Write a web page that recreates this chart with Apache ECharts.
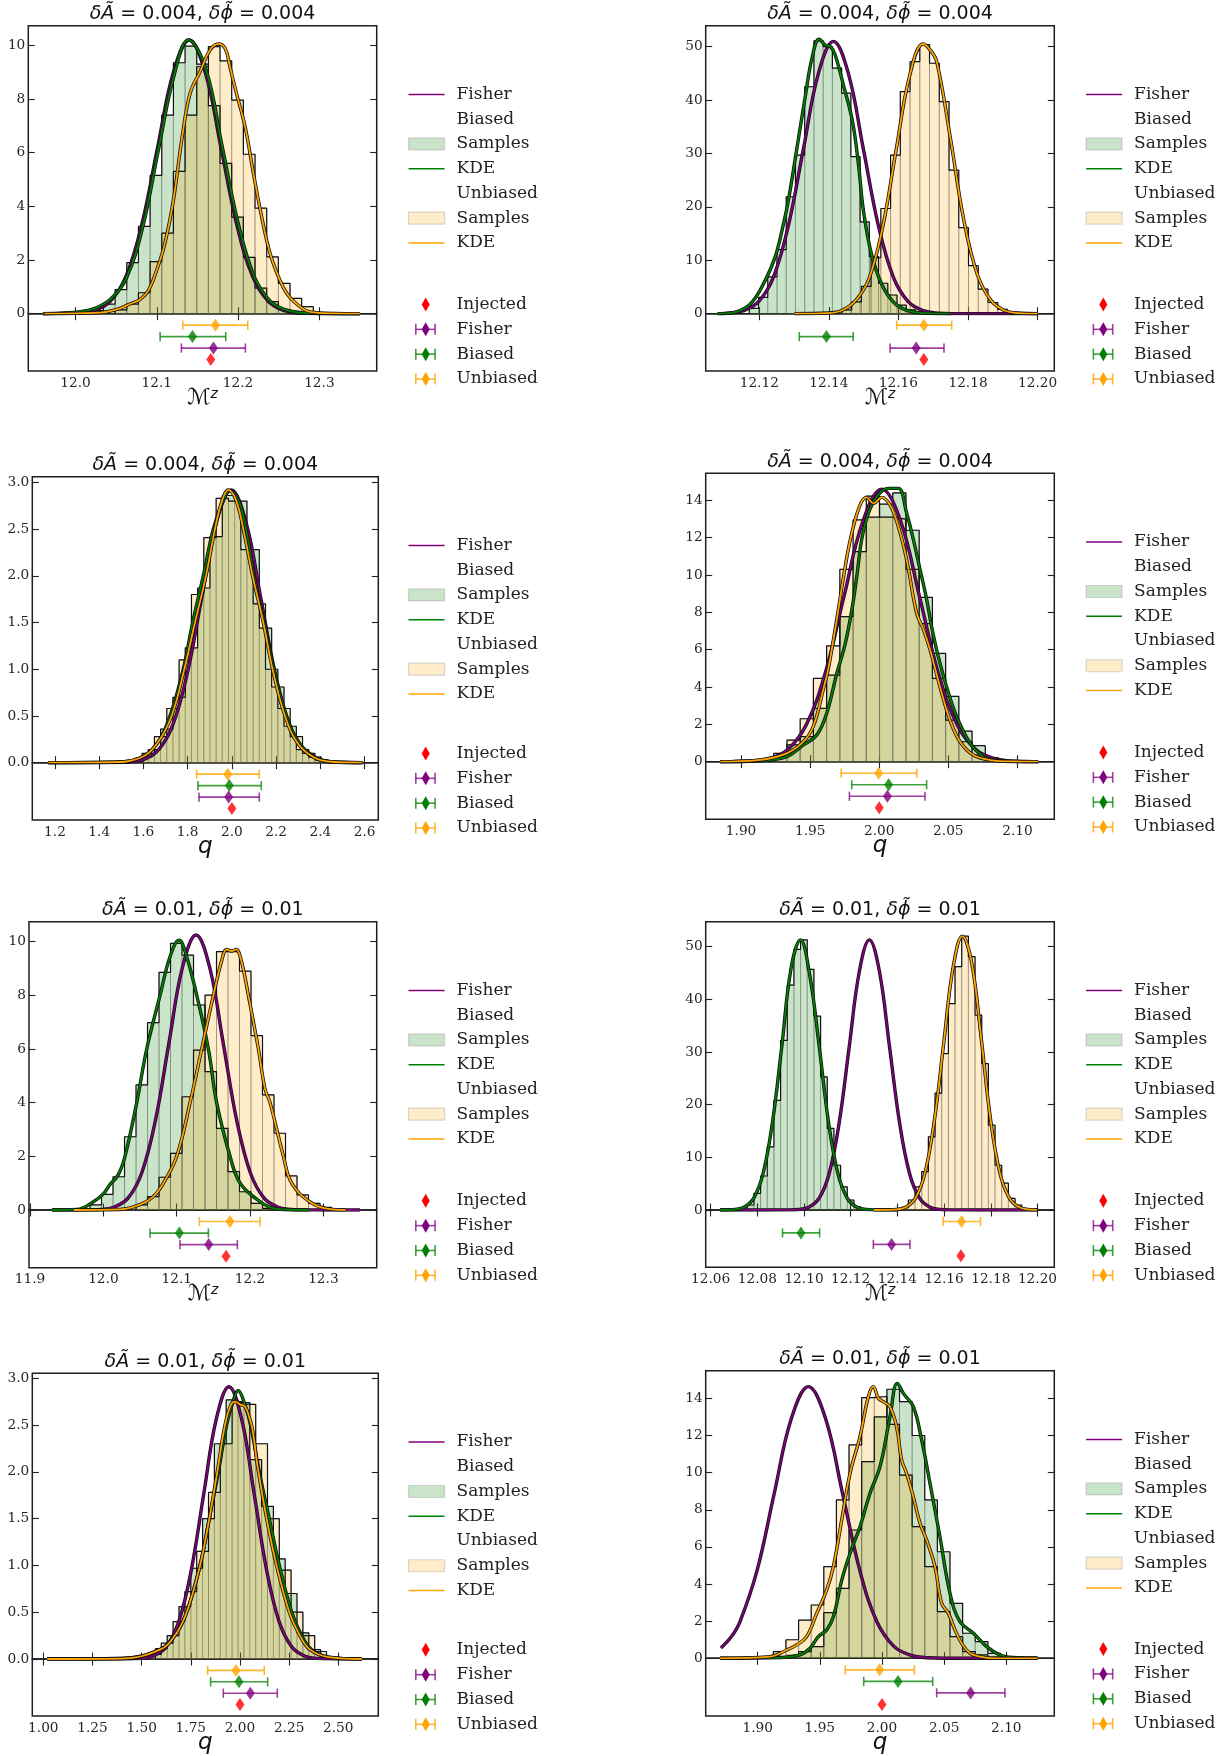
<!DOCTYPE html>
<html>
<head>
<meta charset="utf-8">
<script src="https://cdn.jsdelivr.net/npm/echarts@6/dist/echarts.min.js"></script>
<style>
html,body{margin:0;padding:0;background:#fff;}
#chart{width:1231px;height:1756px;}
</style>
</head>
<body>
<div id="chart"></div>
<script>
// ===================== Row 1, left: chirp mass, dA = dphi = 0.004 =====================
const r1L_xRange = [11.942, 12.3705];
const r1L_xTicks = [12.0, 12.1, 12.2, 12.3];
const r1L_yMax = 10.73;
const r1L_yTicks = [0, 2, 4, 6, 8, 10];
const r1L_biasedBins = [12.0201, 0.01434];        // first edge, bin width
const r1L_biasedHist = [0.12, 0.36, 0.9, 1.9, 3.25, 5.15, 7.4, 9.35, 9.97, 9.3, 7.75, 5.6, 3.6, 2.1, 0.95, 0.45, 0.15];
const r1L_unbiasedBins = [12.04878, 0.01434];
const r1L_unbiasedHist = [0.14, 0.36, 0.78, 1.94, 3.0, 5.3, 7.4, 9.2, 9.95, 9.42, 7.96, 5.94, 3.93, 2.12, 1.13, 0.57, 0.26];
const r1L_biasedKde = [[11.96,0],[11.985,0.03],[12.0045,0.07],[12.024,0.2],[12.0435,0.55],[12.063,1.35],[12.0825,3.2],[12.102,6.1],[12.1215,8.9],[12.139,10.2],[12.1605,9.1],[12.18,6.3],[12.1995,3.45],[12.219,1.45],[12.2385,0.5],[12.258,0.15],[12.2775,0.04],[12.30,0.01],[12.35,0]];
const r1L_unbiasedKde = [[11.962,0],[12.03,0.04],[12.051,0.16],[12.069,0.39],[12.0795,0.53],[12.09,0.88],[12.1,1.63],[12.11,2.62],[12.1205,4.24],[12.1307,6.47],[12.141,8.21],[12.1533,9.02],[12.1656,9.83],[12.1758,10.05],[12.184,9.89],[12.19,9.2],[12.198,8.21],[12.2086,6.97],[12.2189,5.23],[12.229,3.61],[12.2393,2.25],[12.2496,1.38],[12.2598,0.76],[12.2721,0.36],[12.2885,0.07],[12.317,0.01],[12.35,0]];
const r1L_fisherCurve = [[11.96,0],[11.984,0.003],[12.0035,0.022],[12.023,0.113],[12.0425,0.448],[12.062,1.38],[12.0815,3.31],[12.101,6.19],[12.1205,9.0],[12.14,10.2],[12.1595,9.0],[12.179,6.19],[12.1985,3.31],[12.218,1.38],[12.2375,0.448],[12.257,0.113],[12.2765,0.022],[12.296,0.003],[12.35,0]];
const r1L_injected = 12.1664;
const r1L_fisherEst = [12.1697, 12.1303, 12.209];     // centre, low, high
const r1L_biasedEst = [12.1439, 12.1041, 12.1848];
const r1L_unbiasedEst = [12.1721, 12.132, 12.2119];

// ===================== Row 1, right: chirp mass, dA = dphi = 0.004 =====================
const r1R_xRange = [12.1046, 12.2048];
const r1R_xTicks = [12.12, 12.14, 12.16, 12.18, 12.20];
const r1R_yMax = 53.93;
const r1R_yTicks = [0, 10, 20, 30, 40, 50];
const r1R_biasedBins = [12.11713, 0.002654];
const r1R_biasedHist = [1.0, 3.06, 6.9, 12.0, 21.9, 29.7, 42.5, 51.1, 50.0, 46.0, 41.3, 29.4, 17.2, 10.7, 5.7, 3.5, 1.6, 0.7, 0.25];
const r1R_unbiasedBins = [12.14374, 0.0028];
const r1R_unbiasedHist = [0.7, 2.2, 5.1, 10.5, 19.7, 29.7, 41.6, 47.2, 50.4, 46.9, 39.7, 26.9, 16.1, 9.0, 4.6, 2.1, 0.8, 0.3];
const r1R_biasedKde = [[12.108,0],[12.1141,0.5],[12.118,2.2],[12.1219,6.5],[12.1245,10.5],[12.1265,15.5],[12.1283,21],[12.1307,30.5],[12.1333,41],[12.1352,48],[12.1372,51.4],[12.139,50.3],[12.1405,50.0],[12.1418,48.5],[12.1445,42],[12.1468,36],[12.1485,28],[12.15,19],[12.1523,11],[12.1552,5.5],[12.1585,2.2],[12.162,0.7],[12.167,0.1],[12.175,0]];
const r1R_unbiasedKde = [[12.13,0],[12.1398,0.12],[12.1437,0.6],[12.1476,2.4],[12.1515,6.5],[12.1554,16.0],[12.1593,30.5],[12.1632,44.5],[12.1671,50.5],[12.169,49.5],[12.171,47.2],[12.1749,33.0],[12.1788,17.5],[12.1827,7.3],[12.1866,2.5],[12.1905,0.6],[12.1944,0.12],[12.2,0]];
const r1R_fisherCurve = [[12.109,0],[12.1112,0.11],[12.1155,0.57],[12.1198,2.24],[12.1241,6.9],[12.1284,16.6],[12.1327,30.9],[12.137,45.0],[12.1413,51.0],[12.1456,45.0],[12.1499,30.9],[12.1542,16.6],[12.1585,6.9],[12.1628,2.24],[12.1671,0.57],[12.1714,0.11],[12.1757,0.02],[12.2,0]];
const r1R_injected = 12.1673;
const r1R_fisherEst = [12.1651, 12.1576, 12.1731];
const r1R_biasedEst = [12.1393, 12.1315, 12.147];
const r1R_unbiasedEst = [12.1673, 12.1595, 12.1753];

// ===================== Row 2, left: mass ratio, dA = dphi = 0.004 =====================
const r2L_xRange = [1.0975, 2.662];
const r2L_xTicks = [1.2, 1.4, 1.6, 1.8, 2.0, 2.2, 2.4, 2.6];
const r2L_yMax = 3.061;
const r2L_yTicks = [0, 0.5, 1.0, 1.5, 2.0, 2.5, 3.0];
const r2L_biasedBins = [1.566, 0.0558];
const r2L_biasedHist = [0.05, 0.14, 0.36, 0.70, 1.23, 1.87, 2.42, 2.86, 2.80, 2.28, 1.44, 0.81, 0.39, 0.14, 0.06, 0.02];
const r2L_unbiasedBins = [1.594, 0.0558];
const r2L_unbiasedHist = [0.1, 0.28, 0.58, 1.1, 1.8, 2.41, 2.83, 2.8, 2.28, 1.7, 1.0, 0.58, 0.28, 0.1, 0.03];
const r2L_biasedKde = [[1.17,0],[1.45,0.005],[1.584,0.05],[1.66,0.2],[1.72,0.5],[1.78,1.0],[1.8225,1.5],[1.8707,2.0],[1.916,2.5],[1.96,2.8],[1.991,2.91],[2.03,2.8],[2.0636,2.5],[2.0998,2.0],[2.1465,1.5],[2.19,1.0],[2.247,0.5],[2.308,0.2],[2.383,0.05],[2.45,0.01],[2.59,0]];
const r2L_unbiasedKde = [[1.17,0],[1.45,0.005],[1.584,0.05],[1.66,0.2],[1.7275,0.5],[1.7848,1.0],[1.833,1.5],[1.8828,2.0],[1.9234,2.5],[1.955,2.8],[1.984,2.92],[2.02,2.8],[2.0515,2.5],[2.0937,2.0],[2.142,1.5],[2.184,1.0],[2.24,0.5],[2.30,0.2],[2.376,0.05],[2.45,0.01],[2.59,0]];
const r2L_fisherCurve = [[1.17,0],[1.465,0.001],[1.5315,0.0064],[1.598,0.032],[1.6645,0.128],[1.731,0.395],[1.7975,0.948],[1.864,1.771],[1.9305,2.577],[1.997,2.92],[2.0635,2.577],[2.13,1.771],[2.1965,0.948],[2.263,0.395],[2.3295,0.128],[2.396,0.032],[2.4625,0.0064],[2.529,0.001],[2.59,0]];
const r2L_injected = 2.0;
const r2L_fisherEst = [1.9852, 1.8511, 2.1239];
const r2L_biasedEst = [1.9883, 1.8466, 2.1329];
const r2L_unbiasedEst = [1.9807, 1.8405, 2.1239];

// ===================== Row 2, right: mass ratio, dA = dphi = 0.004 =====================
const r2R_xRange = [1.8744, 2.1267];
const r2R_xTicks = [1.90, 1.95, 2.00, 2.05, 2.10];
const r2R_yMax = 15.45;
const r2R_yTicks = [0, 2, 4, 6, 8, 10, 12, 14];
const r2R_biasedBins = [1.92364, 0.00957];
const r2R_biasedHist = [0.25, 0.9, 1.34, 2.86, 4.64, 7.77, 11.25, 13.1, 13.8, 14.4, 12.4, 8.8, 5.8, 3.5, 1.64, 0.86, 0.2];
const r2R_unbiasedBins = [1.92364, 0.00957];
const r2R_unbiasedHist = [0.45, 1.16, 2.3, 4.46, 6.2, 10.3, 12.95, 14.23, 13.1, 13.0, 10.3, 7.4, 4.46, 2.23, 1.07, 0.36, 0.1];
const r2R_biasedKde = [[1.885,0],[1.9137,0.05],[1.933,0.27],[1.9451,0.9],[1.9548,1.43],[1.962,2.6],[1.9692,4.7],[1.9753,6.3],[1.9801,8.1],[1.9837,9.9],[1.9873,11.9],[1.9921,13.3],[1.9982,14.2],[2.0066,14.64],[2.0138,14.64],[2.0199,13.3],[2.0247,11.9],[2.0295,10.3],[2.0343,8.7],[2.038,7.2],[2.0428,5.6],[2.0488,4.0],[2.0561,2.4],[2.0657,1.0],[2.0753,0.27],[2.0826,0.09],[2.0971,0.01],[2.115,0]];
const r2R_unbiasedKde = [[1.885,0],[1.912,0.08],[1.933,0.45],[1.9451,1.07],[1.9523,1.9],[1.9596,3.9],[1.9632,5.0],[1.9692,7.6],[1.9755,10.5],[1.98,12.2],[1.9861,13.75],[1.9909,14.16],[1.9958,13.84],[2.0018,14.16],[2.0078,13.75],[2.0138,12.6],[2.0199,10.8],[2.0271,7.95],[2.0319,7.1],[2.0368,6.0],[2.044,4.0],[2.0512,2.23],[2.0585,1.07],[2.0681,0.36],[2.0802,0.09],[2.097,0.01],[2.115,0]];
const r2R_fisherCurve = [[1.885,0],[1.8926,0.005],[1.9063,0.032],[1.9199,0.162],[1.9336,0.64],[1.9472,1.98],[1.9609,4.74],[1.9745,8.86],[1.9882,12.88],[2.0018,14.6],[2.0155,12.88],[2.0291,8.86],[2.0428,4.74],[2.0564,1.98],[2.0701,0.64],[2.0837,0.162],[2.0974,0.032],[2.111,0.005],[2.115,0]];
const r2R_injected = 2.0;
const r2R_fisherEst = [2.0059, 1.9784, 2.0331];
const r2R_biasedEst = [2.0068, 1.9801, 2.0343];
const r2R_unbiasedEst = [1.9996, 1.9724, 2.0271];

// ===================== Row 3, left: chirp mass, dA = dphi = 0.01 =====================
const r3L_xRange = [11.8986, 12.3727];
const r3L_xTicks = [11.9, 12.0, 12.1, 12.2, 12.3];
const r3L_yMax = 10.745;
const r3L_yTicks = [0, 2, 4, 6, 8, 10];
const r3L_biasedBins = [11.9818, 0.01568];
const r3L_biasedHist = [0.19, 0.58, 1.24, 2.73, 4.66, 6.98, 8.86, 9.94, 9.5, 7.64, 5.16, 3.04, 1.43, 0.68, 0.25, 0.06];
const r3L_unbiasedBins = [12.04452, 0.01568];
const r3L_unbiasedHist = [0.19, 0.5, 1.22, 2.11, 4.22, 5.96, 8.01, 9.63, 9.63, 8.9, 6.5, 4.29, 2.86, 1.27, 0.56, 0.25, 0.1];
const r3L_biasedKde = [[11.93,0],[11.964,0.02],[11.986,0.3],[12.0,0.6],[12.009,0.95],[12.02,1.3],[12.0295,2.0],[12.0455,4.0],[12.0591,6.0],[12.0773,8.0],[12.0909,9.44],[12.1032,10.06],[12.1136,9.44],[12.1273,8.0],[12.1432,6.0],[12.1545,4.0],[12.1727,2.0],[12.1864,1.0],[12.2091,0.4],[12.2273,0.1],[12.245,0.02],[12.28,0]];
const r3L_unbiasedKde = [[11.96,0],[12.0227,0.02],[12.05,0.2],[12.0682,0.5],[12.0818,1.0],[12.1,2.0],[12.1182,4.0],[12.1341,6.0],[12.15,8.0],[12.1614,9.3],[12.1682,9.71],[12.175,9.65],[12.1809,9.71],[12.188,9.3],[12.1977,8.0],[12.2114,6.0],[12.2205,4.5],[12.2273,4.0],[12.2455,2.0],[12.2568,1.0],[12.2818,0.3],[12.3045,0.05],[12.33,0]];
const r3L_fisherCurve = [[11.93,0],[11.9784,0.003],[11.9969,0.023],[12.0154,0.114],[12.0339,0.45],[12.0524,1.39],[12.0709,3.33],[12.0894,6.22],[12.1079,9.05],[12.1264,10.25],[12.1449,9.05],[12.1634,6.22],[12.1819,3.33],[12.2004,1.39],[12.2189,0.45],[12.2374,0.114],[12.2559,0.023],[12.2744,0.003],[12.35,0]];
const r3L_injected = 12.1673;
const r3L_fisherEst = [12.1436, 12.1045, 12.1827];
const r3L_biasedEst = [12.1036, 12.0636, 12.1432];
const r3L_unbiasedEst = [12.1727, 12.1309, 12.2136];

// ===================== Row 3, right: chirp mass, dA = dphi = 0.01 =====================
const r3R_xRange = [12.0579, 12.2072];
const r3R_xTicks = [12.06, 12.08, 12.10, 12.12, 12.14, 12.16, 12.18, 12.20];
const r3R_yMax = 54.75;
const r3R_yTicks = [0, 10, 20, 30, 40, 50];
const r3R_biasedBins = [12.0757, 0.002855];
const r3R_biasedHist = [0.95, 3.16, 6.46, 12.0, 20.8, 32.2, 42.7, 49.5, 51.3, 45.7, 36.8, 25.3, 15.5, 8.5, 4.4, 1.9, 0.6];
const r3R_unbiasedBins = [12.14185, 0.002855];
const r3R_unbiasedHist = [0.5, 1.9, 4.4, 7.3, 13.9, 22.2, 29.7, 39.2, 46.2, 52.0, 48.1, 37.0, 27.8, 16.1, 8.5, 5.1, 2.2, 0.95];
const r3R_biasedKde = [[12.064,0],[12.0665,0.017],[12.0705,0.11],[12.0745,0.57],[12.0785,2.25],[12.0825,6.94],[12.0865,16.66],[12.0905,31.1],[12.0945,46.0],[12.0985,51.3],[12.1025,44.5],[12.1065,31.1],[12.1105,16.66],[12.1145,6.94],[12.1185,2.25],[12.1225,0.57],[12.1265,0.11],[12.1305,0.017],[12.14,0]];
const r3R_unbiasedKde = [[12.13,0],[12.1358,0.02],[12.1398,0.11],[12.1438,0.58],[12.1478,2.3],[12.1518,7.0],[12.1558,16.9],[12.1598,31.5],[12.1638,45.9],[12.1678,52.0],[12.1718,47.0],[12.1758,33.0],[12.1798,17.5],[12.1838,7.2],[12.1878,2.4],[12.1918,0.6],[12.1958,0.11],[12.1998,0.02],[12.2,0]];
const r3R_fisherCurve = [[12.064,0],[12.0936,0.017],[12.0979,0.113],[12.1022,0.57],[12.1065,2.25],[12.1108,6.94],[12.1151,16.66],[12.1194,31.1],[12.1237,45.3],[12.128,51.3],[12.1323,45.3],[12.1366,31.1],[12.1409,16.66],[12.1452,6.94],[12.1495,2.25],[12.1538,0.57],[12.1581,0.113],[12.1624,0.017],[12.2,0]];
const r3R_injected = 12.1672;
const r3R_fisherEst = [12.1375, 12.1297, 12.1454];
const r3R_biasedEst = [12.0987, 12.0908, 12.1067];
const r3R_unbiasedEst = [12.1675, 12.1596, 12.1756];

// ===================== Row 4, left: mass ratio, dA = dphi = 0.01 =====================
const r4L_xRange = [0.944, 2.7034];
const r4L_xTicks = [1.00, 1.25, 1.50, 1.75, 2.00, 2.25, 2.50];
const r4L_yMax = 3.053;
const r4L_yTicks = [0, 0.5, 1.0, 1.5, 2.0, 2.5, 3.0];
const r4L_biasedBins = [1.57, 0.06];
const r4L_biasedHist = [0.11, 0.25, 0.56, 0.97, 1.5, 2.3, 2.77, 2.74, 2.13, 1.63, 1.07, 0.7, 0.28, 0.1];
const r4L_unbiasedBins = [1.54, 0.06];
const r4L_unbiasedHist = [0.05, 0.17, 0.4, 0.72, 1.15, 1.78, 2.3, 2.75, 2.72, 2.3, 1.5, 0.95, 0.5, 0.25, 0.08];
const r4L_biasedKde = [[1.02,0],[1.4,0.005],[1.593,0.1],[1.669,0.25],[1.729,0.5],[1.797,1.0],[1.844,1.5],[1.89,2.0],[1.932,2.5],[1.96,2.72],[1.9915,2.868],[2.02,2.75],[2.0542,2.5],[2.098,2.0],[2.149,1.5],[2.2,1.0],[2.263,0.5],[2.3136,0.25],[2.364,0.1],[2.45,0.02],[2.62,0]];
const r4L_unbiasedKde = [[1.02,0],[1.4,0.005],[1.593,0.1],[1.669,0.25],[1.729,0.5],[1.797,1.0],[1.844,1.5],[1.8847,2.0],[1.9237,2.5],[1.955,2.72],[1.975,2.75],[2.0,2.72],[2.025,2.70],[2.045,2.6],[2.064,2.45],[2.09,2.05],[2.1356,1.5],[2.186,1.0],[2.251,0.5],[2.305,0.25],[2.356,0.1],[2.45,0.02],[2.62,0]];
const r4L_fisherCurve = [[1.02,0],[1.432,0.001],[1.496,0.0064],[1.56,0.032],[1.624,0.128],[1.688,0.394],[1.752,0.945],[1.816,1.765],[1.88,2.568],[1.944,2.91],[2.008,2.568],[2.072,1.765],[2.136,0.945],[2.2,0.394],[2.264,0.128],[2.328,0.032],[2.392,0.0064],[2.456,0.001],[2.62,0]];
const r4L_injected = 2.0;
const r4L_fisherEst = [2.0525, 1.9153, 2.1898];
const r4L_biasedEst = [1.9949, 1.8508, 2.1407];
const r4L_unbiasedEst = [1.9797, 1.8356, 2.1237];

// ===================== Row 4, right: mass ratio, dA = dphi = 0.01 =====================
const r4R_xRange = [1.8582, 2.1386];
const r4R_xTicks = [1.90, 1.95, 2.00, 2.05, 2.10];
const r4R_yMax = 15.49;
const r4R_yTicks = [0, 2, 4, 6, 8, 10, 12, 14];
const r4R_biasedBins = [1.9126, 0.01015];
const r4R_biasedHist = [0.1, 0.2, 0.36, 0.63, 2.46, 3.77, 6.91, 10.59, 13.0, 14.49, 13.82, 12.0, 8.53, 5.74, 2.96, 1.35, 0.9, 0.27];
const r4R_unbiasedBins = [1.9126, 0.01015];
const r4R_unbiasedHist = [0.36, 1.0, 2.06, 2.87, 4.94, 8.53, 11.5, 14.04, 14.1, 12.6, 9.87, 7.09, 4.94, 2.51, 1.17, 0.36, 0.18];
const r4R_biasedKde = [[1.8697,0],[1.918,0.04],[1.934,0.18],[1.9421,0.54],[1.9488,1.17],[1.9555,1.53],[1.9609,2.24],[1.9676,4.2],[1.9743,5.65],[1.9823,7.09],[1.9903,8.88],[1.9984,10.32],[2.0064,13.0],[2.0123,14.81],[2.0172,14.27],[2.0252,13.55],[2.0319,11.76],[2.0386,9.42],[2.0466,6.55],[2.0547,3.5],[2.0627,1.97],[2.0735,1.35],[2.0842,0.63],[2.0949,0.18],[2.1056,0.04],[2.125,0]];
const r4R_unbiasedKde = [[1.8697,0],[1.9099,0.09],[1.9233,0.45],[1.9314,0.72],[1.9394,1.17],[1.9475,2.42],[1.9555,3.68],[1.9609,4.94],[1.9676,7.45],[1.9743,9.96],[1.9823,11.94],[1.989,14.09],[1.993,14.63],[1.9971,14.0],[2.0011,13.82],[2.0064,13.55],[2.0118,12.47],[2.0158,10.68],[2.0198,9.96],[2.0252,8.7],[2.0306,7.27],[2.0359,6.37],[2.0426,4.94],[2.048,2.96],[2.0534,2.42],[2.0587,1.53],[2.0641,0.81],[2.0708,0.27],[2.0788,0.09],[2.0895,0],[2.125,0]];
const r4R_fisherCurve = [[1.8705,0.56],[1.8789,1.17],[1.8858,1.98],[1.8996,4.75],[1.9133,8.87],[1.9271,12.91],[1.9408,14.63],[1.9546,12.91],[1.9683,8.87],[1.9821,4.75],[1.9958,1.98],[2.0096,0.642],[2.0233,0.162],[2.0371,0.032],[2.0508,0.005],[2.125,0]];
const r4R_injected = 2.0;
const r4R_fisherEst = [2.0713, 2.044, 2.0989];
const r4R_biasedEst = [2.0129, 1.9853, 2.0408];
const r4R_unbiasedEst = [1.9981, 1.9705, 2.026];

// ===================== Layout of the eight panels =====================
// frame: left, right, top, zero line (bottom of the density axes), bottom of the estimate strip
const LEG_LEFT = 408.5, LEG_RIGHT = 1086.1;
const panels = [
  {frame:{l:28.3,r:376.7,t:25.7,z:313.7,b:371},   legX:LEG_LEFT,  delta:'0.004', param:'mz', xDec:1, yDec:0, xRange:r1L_xRange, xTicks:r1L_xTicks, yMax:r1L_yMax, yTicks:r1L_yTicks, bBins:r1L_biasedBins, bHist:r1L_biasedHist, uBins:r1L_unbiasedBins, uHist:r1L_unbiasedHist, bKde:r1L_biasedKde, uKde:r1L_unbiasedKde, fCurve:r1L_fisherCurve, inj:r1L_injected, fEst:r1L_fisherEst, bEst:r1L_biasedEst, uEst:r1L_unbiasedEst},
  {frame:{l:705.7,r:1054.3,t:25.7,z:313.7,b:371}, legX:LEG_RIGHT, delta:'0.004', param:'mz', xDec:2, yDec:0, xRange:r1R_xRange, xTicks:r1R_xTicks, yMax:r1R_yMax, yTicks:r1R_yTicks, bBins:r1R_biasedBins, bHist:r1R_biasedHist, uBins:r1R_unbiasedBins, uHist:r1R_unbiasedHist, bKde:r1R_biasedKde, uKde:r1R_unbiasedKde, fCurve:r1R_fisherCurve, inj:r1R_injected, fEst:r1R_fisherEst, bEst:r1R_biasedEst, uEst:r1R_unbiasedEst},
  {frame:{l:32.3,r:378.3,t:476.7,z:762.7,b:820},  legX:LEG_LEFT,  delta:'0.004', param:'q',  xDec:1, yDec:1, xRange:r2L_xRange, xTicks:r2L_xTicks, yMax:r2L_yMax, yTicks:r2L_yTicks, bBins:r2L_biasedBins, bHist:r2L_biasedHist, uBins:r2L_unbiasedBins, uHist:r2L_unbiasedHist, bKde:r2L_biasedKde, uKde:r2L_unbiasedKde, fCurve:r2L_fisherCurve, inj:r2L_injected, fEst:r2L_fisherEst, bEst:r2L_biasedEst, uEst:r2L_unbiasedEst},
  {frame:{l:705.7,r:1054.3,t:473.3,z:761.7,b:819.3}, legX:LEG_RIGHT, delta:'0.004', param:'q', xDec:2, yDec:0, xRange:r2R_xRange, xTicks:r2R_xTicks, yMax:r2R_yMax, yTicks:r2R_yTicks, bBins:r2R_biasedBins, bHist:r2R_biasedHist, uBins:r2R_unbiasedBins, uHist:r2R_unbiasedHist, bKde:r2R_biasedKde, uKde:r2R_unbiasedKde, fCurve:r2R_fisherCurve, inj:r2R_injected, fEst:r2R_fisherEst, bEst:r2R_biasedEst, uEst:r2R_unbiasedEst},
  {frame:{l:29,r:376.7,t:921.7,z:1210,b:1267.7},  legX:LEG_LEFT,  delta:'0.01', param:'mz', xDec:1, yDec:0, xRange:r3L_xRange, xTicks:r3L_xTicks, yMax:r3L_yMax, yTicks:r3L_yTicks, bBins:r3L_biasedBins, bHist:r3L_biasedHist, uBins:r3L_unbiasedBins, uHist:r3L_unbiasedHist, bKde:r3L_biasedKde, uKde:r3L_unbiasedKde, fCurve:r3L_fisherCurve, inj:r3L_injected, fEst:r3L_fisherEst, bEst:r3L_biasedEst, uEst:r3L_unbiasedEst},
  {frame:{l:705.7,r:1054.3,t:921.7,z:1210,b:1267.3}, legX:LEG_RIGHT, delta:'0.01', param:'mz', xDec:2, yDec:0, xRange:r3R_xRange, xTicks:r3R_xTicks, yMax:r3R_yMax, yTicks:r3R_yTicks, bBins:r3R_biasedBins, bHist:r3R_biasedHist, uBins:r3R_unbiasedBins, uHist:r3R_unbiasedHist, bKde:r3R_biasedKde, uKde:r3R_unbiasedKde, fCurve:r3R_fisherCurve, inj:r3R_injected, fEst:r3R_fisherEst, bEst:r3R_biasedEst, uEst:r3R_unbiasedEst},
  {frame:{l:32.3,r:378.3,t:1373.3,z:1659,b:1716}, legX:LEG_LEFT,  delta:'0.01', param:'q', xDec:2, yDec:1, xRange:r4L_xRange, xTicks:r4L_xTicks, yMax:r4L_yMax, yTicks:r4L_yTicks, bBins:r4L_biasedBins, bHist:r4L_biasedHist, uBins:r4L_unbiasedBins, uHist:r4L_unbiasedHist, bKde:r4L_biasedKde, uKde:r4L_unbiasedKde, fCurve:r4L_fisherCurve, inj:r4L_injected, fEst:r4L_fisherEst, bEst:r4L_biasedEst, uEst:r4L_unbiasedEst},
  {frame:{l:705.7,r:1054.3,t:1370.7,z:1658.3,b:1716}, legX:LEG_RIGHT, delta:'0.01', param:'q', xDec:2, yDec:0, xRange:r4R_xRange, xTicks:r4R_xTicks, yMax:r4R_yMax, yTicks:r4R_yTicks, bBins:r4R_biasedBins, bHist:r4R_biasedHist, uBins:r4R_unbiasedBins, uHist:r4R_unbiasedHist, bKde:r4R_biasedKde, uKde:r4R_unbiasedKde, fCurve:r4R_fisherCurve, inj:r4R_injected, fEst:r4R_fisherEst, bEst:r4R_biasedEst, uEst:r4R_unbiasedEst}
];

// ===================== Styling =====================
const SERIF = 'DejaVu Serif', SANS = 'DejaVu Sans';
const PURPLE = '#800080', GREEN = '#008000', ORANGE = '#FFA500', RED = '#FF0000';
const GREEN_FILL = 'rgba(0,128,0,0.21)', ORANGE_FILL = 'rgba(255,165,0,0.21)';
const BAR_EDGE = 'rgba(105,105,105,0.42)';
const FRAME = '#1e1e1e', TEXT = '#222';
const ROW_UNBIASED = -1, ROW_BIASED = -2, ROW_FISHER = -3, ROW_INJECTED = -4;
const TICK_LEN = 6.5;

const grids = [], xAxes = [], yAxes = [], series = [], graphics = [];

function fmt(dec) { return v => Number(v).toFixed(dec); }

function histSeries(bins, heights, fill, xi, yi) {
  return {
    type: 'custom', xAxisIndex: xi, yAxisIndex: yi, silent: true, clip: true, z: 2,
    encode: {x: [0, 1], y: 2},
    data: heights.map((h, k) => [bins[0] + k * bins[1], bins[0] + (k + 1) * bins[1], h]),
    renderItem: (params, api) => {
      const a = api.coord([api.value(0), api.value(2)]);
      const b = api.coord([api.value(1), 0]);
      return {type: 'rect', shape: {x: a[0], y: a[1], width: b[0] - a[0], height: b[1] - a[1]},
              style: {fill: fill, stroke: BAR_EDGE, lineWidth: 1}};
    }
  };
}

function stepOutline(bins, heights, xi, yi) {
  const pts = [[bins[0], 0]];
  heights.forEach((h, k) => {
    const a = bins[0] + k * bins[1];
    pts.push([a, h], [a + bins[1], h]);
  });
  pts.push([bins[0] + heights.length * bins[1], 0]);
  return {type: 'line', xAxisIndex: xi, yAxisIndex: yi, data: pts, symbol: 'none', silent: true, z: 3,
          lineStyle: {color: '#111', width: 1.2}};
}

function curveSeries(data, color, xi, yi, z) {
  return [
    {type: 'line', xAxisIndex: xi, yAxisIndex: yi, data: data, smooth: 0.4, symbol: 'none', silent: true, z: z,
     lineStyle: {color: '#111', width: 3.4}},
    {type: 'line', xAxisIndex: xi, yAxisIndex: yi, data: data, smooth: 0.4, symbol: 'none', silent: true, z: z,
     lineStyle: {color: color, width: 1.8}}
  ];
}

function estimateSeries(est, row, color, barColor, xi, yi) {
  return [
    {type: 'custom', xAxisIndex: xi, yAxisIndex: yi, silent: true, z: 4,
     encode: {x: [1, 2], y: 3},
     data: [[est[0], est[1], est[2], row]],
     renderItem: (params, api) => {
       const y = api.value(3);
       const a = api.coord([api.value(1), y]);
       const b = api.coord([api.value(2), y]);
       const st = {stroke: barColor, lineWidth: 1.6};
       return {type: 'group', children: [
         {type: 'line', shape: {x1: a[0], y1: a[1], x2: b[0], y2: b[1]}, style: st},
         {type: 'line', shape: {x1: a[0], y1: a[1] - 4.6, x2: a[0], y2: a[1] + 4.6}, style: st},
         {type: 'line', shape: {x1: b[0], y1: b[1] - 4.6, x2: b[0], y2: b[1] + 4.6}, style: st}
       ]};
     }},
    {type: 'scatter', xAxisIndex: xi, yAxisIndex: yi, silent: true, z: 5,
     data: [[est[0], row]], symbol: 'diamond', symbolSize: [9, 13], itemStyle: {color: color}}
  ];
}

function legendText(x, y, s) {
  return {type: 'text', x: x, y: y, silent: true,
          style: {text: s, fontFamily: SERIF, fontSize: 17, fill: TEXT,
                  align: 'left', textAlign: 'left', verticalAlign: 'middle', textVerticalAlign: 'middle'}};
}
function legendLine(x, y, color) {
  return {type: 'line', silent: true, shape: {x1: x, y1: y, x2: x + 36, y2: y}, style: {stroke: color, lineWidth: 1.5}};
}
function legendPatch(x, y, fill) {
  return {type: 'rect', silent: true, shape: {x: x, y: y - 6, width: 36, height: 12},
          style: {fill: fill, stroke: 'rgba(150,150,150,0.35)', lineWidth: 1.2}};
}
function legendDiamond(x, y, color) {
  return {type: 'polygon', silent: true, shape: {points: [[x, y - 7], [x + 4, y], [x, y + 7], [x - 4, y]]},
          style: {fill: color}};
}
function legendErrorbar(x, y, color, barColor) {
  const st = {stroke: barColor, lineWidth: 1.6};
  return [
    {type: 'line', silent: true, shape: {x1: x + 7.3, y1: y, x2: x + 26.6, y2: y}, style: st},
    {type: 'line', silent: true, shape: {x1: x + 7.3, y1: y - 5.5, x2: x + 7.3, y2: y + 5.5}, style: st},
    {type: 'line', silent: true, shape: {x1: x + 26.6, y1: y - 5.5, x2: x + 26.6, y2: y + 5.5}, style: st},
    legendDiamond(x + 17.2, y, color)
  ];
}

panels.forEach((p, i) => {
  const f = p.frame;
  const w = f.r - f.l;
  const gMain = 2 * i, gEst = 2 * i + 1;
  const yMain = 3 * i, yEst = 3 * i + 2;
  const tickLine = {color: '#222', width: 1.1};

  grids.push({left: f.l, top: f.t, width: w, height: f.z - f.t, show: true,
              borderColor: FRAME, borderWidth: 1.5, backgroundColor: 'transparent'});
  grids.push({left: f.l, top: f.z, width: w, height: f.b - f.z, show: true,
              borderColor: FRAME, borderWidth: 1.5, backgroundColor: 'transparent'});

  xAxes.push({gridIndex: gMain, type: 'value', position: 'top', min: p.xRange[0], max: p.xRange[1],
              axisLine: {show: false}, splitLine: {show: false}, axisLabel: {show: false},
              axisTick: {show: true, inside: true, length: TICK_LEN, customValues: p.xTicks, lineStyle: tickLine}});
  xAxes.push({gridIndex: gEst, type: 'value', position: 'bottom', min: p.xRange[0], max: p.xRange[1],
              axisLine: {show: false}, splitLine: {show: false},
              axisTick: {show: true, inside: true, length: TICK_LEN, customValues: p.xTicks, lineStyle: tickLine},
              axisLabel: {show: true, customValues: p.xTicks, formatter: fmt(p.xDec), margin: 5,
                          fontFamily: SERIF, fontSize: 13.7, color: '#262626'}});

  yAxes.push({gridIndex: gMain, type: 'value', position: 'left', min: 0, max: p.yMax,
              axisLine: {show: false}, splitLine: {show: false},
              axisTick: {show: true, inside: true, length: TICK_LEN, customValues: p.yTicks, lineStyle: tickLine},
              axisLabel: {show: true, customValues: p.yTicks, formatter: fmt(p.yDec), margin: 3,
                          fontFamily: SERIF, fontSize: 13.7, color: '#262626'}});
  yAxes.push({gridIndex: gMain, type: 'value', position: 'right', min: 0, max: p.yMax,
              axisLine: {show: false}, splitLine: {show: false}, axisLabel: {show: false},
              axisTick: {show: true, inside: true, length: TICK_LEN, customValues: p.yTicks, lineStyle: tickLine}});
  yAxes.push({gridIndex: gEst, type: 'value', min: -5, max: 0, show: false,
              axisLine: {show: false}, splitLine: {show: false}});

  // sample histograms (biased below, unbiased on top) and their step outlines
  series.push(histSeries(p.bBins, p.bHist, GREEN_FILL, gMain, yMain));
  series.push(histSeries(p.uBins, p.uHist, ORANGE_FILL, gMain, yMain));
  series.push(stepOutline(p.bBins, p.bHist, gMain, yMain));
  series.push(stepOutline(p.uBins, p.uHist, gMain, yMain));
  // Fisher prediction and kernel density estimates
  series.push(...curveSeries(p.fCurve, PURPLE, gMain, yMain, 6));
  series.push(...curveSeries(p.bKde, GREEN, gMain, yMain, 7));
  series.push(...curveSeries(p.uKde, ORANGE, gMain, yMain, 8));

  // point estimates with 1-sigma bars
  series.push(...estimateSeries(p.uEst, ROW_UNBIASED, ORANGE, 'rgba(255,165,0,0.8)', gEst, yEst));
  series.push(...estimateSeries(p.bEst, ROW_BIASED, GREEN, 'rgba(0,128,0,0.75)', gEst, yEst));
  series.push(...estimateSeries(p.fEst, ROW_FISHER, PURPLE, 'rgba(128,0,128,0.75)', gEst, yEst));
  series.push({type: 'scatter', xAxisIndex: gEst, yAxisIndex: yEst, silent: true, z: 5,
               data: [[p.inj, ROW_INJECTED]], symbol: 'diamond', symbolSize: [9, 13], itemStyle: {color: RED}});

  // title
  const cx = (f.l + f.r) / 2;
  graphics.push({type: 'text', x: cx, y: f.t - 11.5, silent: true,
    style: {text: '{i|δÃ} = ' + p.delta + ', {i|δϕ̃} = ' + p.delta,
            fontFamily: SANS, fontSize: 19, fill: '#111',
            align: 'center', textAlign: 'center', verticalAlign: 'middle', textVerticalAlign: 'middle',
            rich: {i: {fontFamily: SANS, fontSize: 19, fontStyle: 'italic', fill: '#111'}}}});

  // x-axis label
  const labelText = p.param === 'mz' ? '{m|ℳ}{s|z}' : '{q|q}';
  graphics.push({type: 'text', x: cx, y: f.b + 27, silent: true,
    style: {text: labelText, fontFamily: SANS, fontSize: 21, fill: '#111',
            align: 'center', textAlign: 'center', verticalAlign: 'middle', textVerticalAlign: 'middle',
            rich: {m: {fontFamily: SANS, fontSize: 22, fill: '#111', verticalAlign: 'bottom'},
                   s: {fontFamily: SANS, fontSize: 14, fontStyle: 'italic', fill: '#111', verticalAlign: 'top'},
                   q: {fontFamily: SANS, fontSize: 23, fontStyle: 'italic', fill: '#111'}}}});

  // legend: curves and sample histograms
  const lx = p.legX, tx = p.legX + 48;
  const y0 = f.t + 68.7, dy = 24.75;
  graphics.push(legendLine(lx, y0, PURPLE), legendText(tx, y0, 'Fisher'));
  graphics.push(legendText(tx, y0 + dy, 'Biased'));
  graphics.push(legendPatch(lx, y0 + 2 * dy, GREEN_FILL), legendText(tx, y0 + 2 * dy, 'Samples'));
  graphics.push(legendLine(lx, y0 + 3 * dy, GREEN), legendText(tx, y0 + 3 * dy, 'KDE'));
  graphics.push(legendText(tx, y0 + 4 * dy, 'Unbiased'));
  graphics.push(legendPatch(lx, y0 + 5 * dy, ORANGE_FILL), legendText(tx, y0 + 5 * dy, 'Samples'));
  graphics.push(legendLine(lx, y0 + 6 * dy, ORANGE), legendText(tx, y0 + 6 * dy, 'KDE'));

  // legend: point estimates
  const e0 = f.z - 9.2, de = 24.85;
  graphics.push(legendDiamond(lx + 17.2, e0, RED), legendText(tx, e0, 'Injected'));
  graphics.push(...legendErrorbar(lx, e0 + de, PURPLE, 'rgba(128,0,128,0.75)'), legendText(tx, e0 + de, 'Fisher'));
  graphics.push(...legendErrorbar(lx, e0 + 2 * de, GREEN, 'rgba(0,128,0,0.75)'), legendText(tx, e0 + 2 * de, 'Biased'));
  graphics.push(...legendErrorbar(lx, e0 + 3 * de, ORANGE, 'rgba(255,165,0,0.8)'), legendText(tx, e0 + 3 * de, 'Unbiased'));
});

const chart = echarts.init(document.getElementById('chart'));
chart.setOption({
  animation: false,
  backgroundColor: '#ffffff',
  textStyle: {fontFamily: SERIF},
  grid: grids,
  xAxis: xAxes,
  yAxis: yAxes,
  series: series,
  graphic: {elements: graphics}
});
</script>
</body>
</html>
